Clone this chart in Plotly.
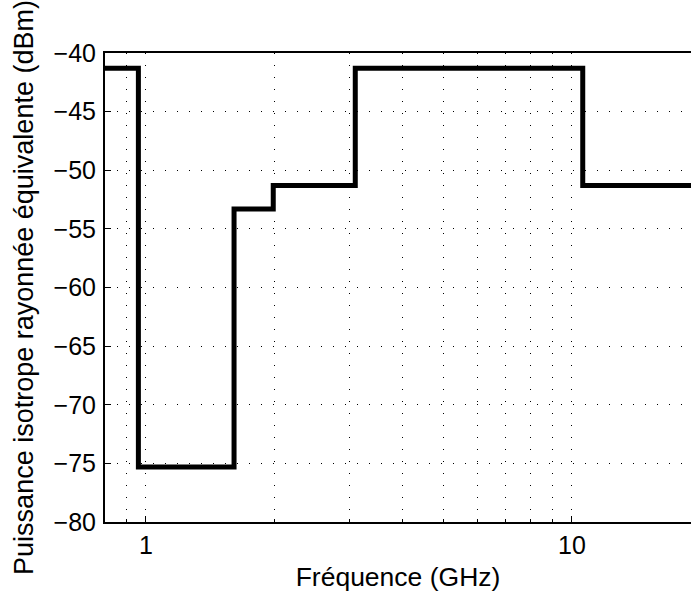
import math
import plotly.graph_objects as go

# FCC-style emission mask (step function)
freq_ghz = [0.8, 0.96, 1.61, 1.99, 3.1, 10.6, 25.0]
eirp_dbm = [-41.3, -75.3, -53.3, -51.3, -41.3, -51.3, -51.3]

y_ticks = [-80, -75, -70, -65, -60, -55, -50, -45, -40]
x_major = [1, 10]
x_minor = [0.9, 2, 3, 4, 5, 6, 7, 8, 9, 20]

fig = go.Figure()
fig.add_trace(go.Scatter(
    x=freq_ghz, y=eirp_dbm, mode="lines", line_shape="hv",
    line=dict(color="black", width=5), showlegend=False,
))

font = "Liberation Sans, Arial, Helvetica, sans-serif"
fig.update_layout(
    width=691, height=594,
    margin=dict(l=105, r=0, t=53, b=72),
    paper_bgcolor="white", plot_bgcolor="white",
    font=dict(family=font, color="black", size=25),
)
fig.update_xaxes(
    type="log", range=[math.log10(0.8015), math.log10(19.03)],
    tickmode="array", tickvals=x_major, ticktext=["1", "10"],
    ticks="inside", ticklen=6, tickwidth=1, tickcolor="black",
    showline=True, linecolor="black", linewidth=2, mirror=True,
    showgrid=True, gridcolor="black", gridwidth=1, griddash="1px,11px",
    zeroline=False,
    minor=dict(tickvals=x_minor, ticks="inside", ticklen=3, tickcolor="black",
               showgrid=True, gridcolor="black", gridwidth=1, griddash="1px,11px"),
    tickfont=dict(size=25),
    title=dict(text="Fréquence (GHz)", font=dict(size=26.5), standoff=9),
)
fig.update_yaxes(
    range=[-80, -40], tickmode="array", tickvals=y_ticks,
    ticks="inside", ticklen=6, tickwidth=1, tickcolor="black",
    showline=True, linecolor="black", linewidth=2, mirror=False,
    showgrid=True, gridcolor="black", gridwidth=1, griddash="1px,11px",
    zeroline=False, ticklabelstandoff=2,
    tickfont=dict(size=25),
    title=dict(text="Puissance isotrope rayonnée équivalente (dBm)", font=dict(size=27), standoff=12),
)
fig.write_html("out.html")
